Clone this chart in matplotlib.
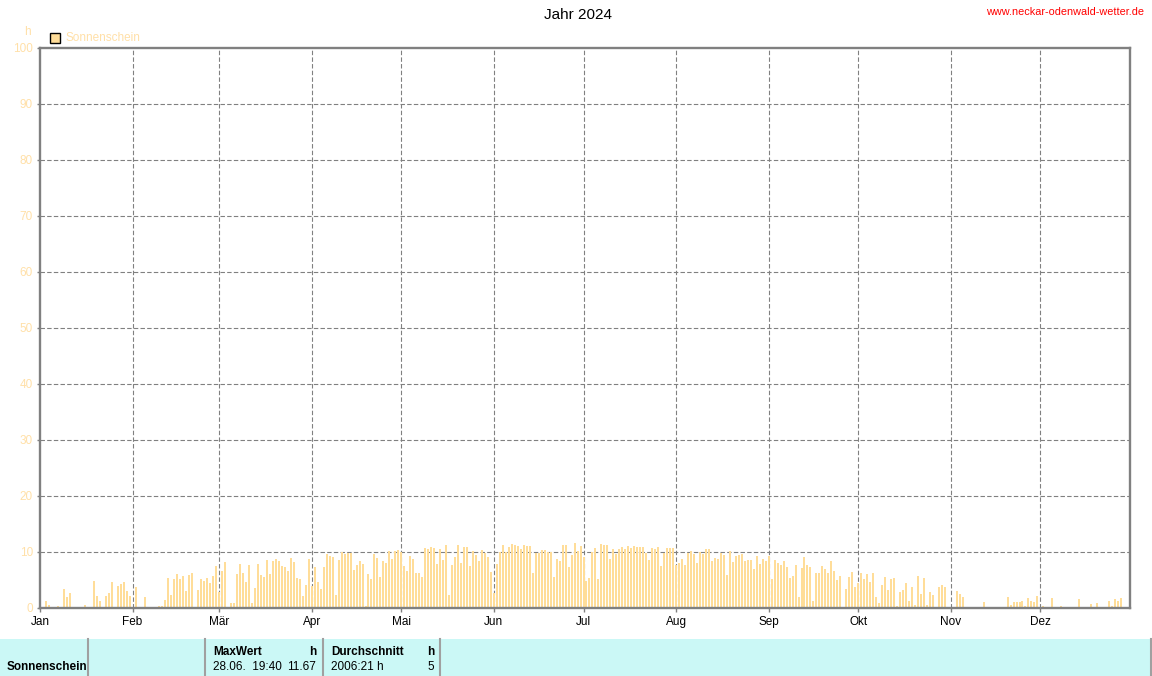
import matplotlib
matplotlib.use("Agg")
import matplotlib.pyplot as plt
from matplotlib.patches import Rectangle
from matplotlib.lines import Line2D
import numpy as np

# ---------------- data (daily sunshine hours, 2024) ----------------
jan = [2.1, 0, 1.2, 0.5, 0.2, 0, 0.4, 0, 3.4, 2.0, 2.7, 0, 0, 0, 0, 0.6, 0, 0, 4.8, 2.1,
       1.2, 0, 2.1, 2.7, 4.6, 0, 3.9, 4.3, 4.6, 3.0, 2.1]
feb = [0, 3.75, 0, 0, 2.0, 0, 0, 0, 0, 0.4, 0.4, 1.4, 5.4, 2.3, 5.2, 6.1, 5.2, 5.7, 3.0, 5.9,
       6.25, 0, 3.2, 5.2, 4.8, 5.4, 4.5, 5.7, 7.5]
mar = [2.9, 6.6, 8.2, 0, 0.9, 0.9, 6.1, 7.9, 6.25, 4.6, 7.7, 0.9, 3.6, 7.9, 5.9, 5.5, 8.6, 6.1,
       8.4, 8.75, 8.4, 7.5, 7.3, 6.6, 8.9, 8.2, 5.4, 5.2, 2.1, 4.1, 8.75]
apr = [3.9, 7.3, 4.6, 3.4, 7.3, 9.6, 9.3, 9.1, 2.3, 8.6, 10.0, 9.6, 9.8, 9.8, 6.8, 7.7, 8.4,
       7.9, 0.4, 6.1, 5.2, 9.6, 8.9, 5.5, 8.4, 8.0, 10.2, 8.75, 10.2, 10.4]
mai = [10.0, 7.5, 6.6, 9.3, 8.75, 6.25, 6.25, 5.5, 10.7, 10.5, 10.9, 10.7, 7.9, 10.5, 8.6,
       11.25, 2.3, 7.7, 9.1, 11.25, 8.0, 10.9, 10.9, 7.5, 10.2, 9.5, 8.4, 10.4, 9.8, 9.1, 6.4]
jun = [2.7, 7.9, 10.0, 11.25, 10.0, 10.9, 11.4, 11.25, 11.1, 10.5, 11.25, 11.1, 11.1, 6.25,
       9.8, 9.8, 10.4, 10.4, 10.0, 10.0, 5.5, 8.75, 8.4, 11.25, 11.25, 7.3, 9.5, 11.67, 10.2, 11.1]
jul = [9.1, 4.8, 5.4, 10.0, 10.7, 5.2, 11.4, 11.25, 11.25, 8.75, 10.5, 9.6, 10.5, 10.9, 10.5,
       11.1, 10.7, 11.1, 10.9, 10.9, 10.9, 9.8, 8.6, 10.7, 10.5, 10.9, 7.5, 9.8, 10.7, 10.7, 10.7]
aug = [7.7, 8.0, 8.75, 7.7, 9.8, 10.2, 9.6, 8.0, 10.0, 9.6, 10.5, 10.5, 8.4, 8.9, 8.75, 9.8,
       9.5, 5.9, 10.2, 8.2, 9.3, 9.5, 9.6, 8.4, 8.6, 8.6, 7.0, 9.3, 7.9, 8.75, 8.4]
sep = [9.3, 5.2, 8.6, 8.0, 7.7, 8.4, 7.3, 5.4, 5.7, 7.7, 2.0, 7.1, 9.1, 7.7, 7.3, 1.25, 6.25,
       6.25, 7.5, 7.0, 6.25, 8.4, 6.6, 5.0, 5.7, 0, 3.4, 5.5, 6.4, 3.75]
okt = [4.5, 6.25, 5.2, 6.1, 4.6, 6.25, 2.0, 0.9, 4.1, 5.5, 3.2, 5.2, 5.4, 0.4, 2.9, 3.2, 4.5,
       1.25, 3.75, 0.5, 5.7, 2.5, 5.4, 0.5, 2.9, 2.3, 0, 3.75, 4.1, 3.75, 0]
nov = [0, 0, 3.0, 2.5, 2.0, 0, 0, 0, 0, 0, 0, 1.1, 0, 0, 0, 0, 0, 0, 0, 2.0, 0.5, 1.1, 1.1,
       1.1, 1.25, 0.4, 1.8, 1.25, 1.1, 2.1]
dez = [0, 0.4, 0, 0, 1.8, 0, 0, 0.4, 0, 0.2, 0, 0, 0, 1.6, 0, 0, 0, 0.7, 0, 0.9, 0, 0, 0,
       1.25, 0.4, 1.6, 1.25, 1.8, 0, 0, 0]

month_labels = ["Jan", "Feb", "Mär", "Apr", "Mai", "Jun", "Jul", "Aug", "Sep", "Okt", "Nov", "Dez"]
y_ticks = [0, 10, 20, 30, 40, 50, 60, 70, 80, 90, 100]
series_name = "Sonnenschein"
title = "Jahr 2024"
site = "www.neckar-odenwald-wetter.de"
table_header = ["MaxWert", "h", "Durchschnitt", "h"]
table_values = ["28.06.  19:40", "11.67", "2006:21 h", "5"]

# ---------------- figure ----------------
W, H = 1152, 676
plt.rcParams['font.family'] = ['Liberation Sans', 'DejaVu Sans']
fig = plt.figure(figsize=(W / 100, H / 100), dpi=100)
fig.patch.set_facecolor('white')

def fx(x):
    return x / W

def fy(y):
    return 1 - y / H

ax = fig.add_axes([fx(40), fy(608), (1130 - 40) / W, (608 - 48) / H])

months = [jan, feb, mar, apr, mai, jun, jul, aug, sep, okt, nov, dez]
values = np.concatenate([np.array(m, dtype=float) for m in months])
days = np.arange(len(values))
month_starts = np.cumsum([0] + [len(m) for m in months[:-1]])

bar_color = '#ffdd99'
label_color = '#ffe0a8'
grid_color = '#808080'

ax.bar(days, values, width=0.67, color=bar_color, linewidth=0, zorder=2)

ax.set_xlim(0, 365)
ax.set_ylim(0, 100)
ax.set_xticks(month_starts)
ax.set_xticklabels(month_labels)
ax.set_yticks(y_ticks)
ax.set_yticklabels([str(v) for v in y_ticks])

for s in ax.spines.values():
    s.set_color(grid_color)
    s.set_linewidth(1.7)

ax.tick_params(axis='x', length=3, width=1, color=grid_color, pad=3,
               labelsize=8.5, labelcolor='black')
ax.tick_params(axis='y', length=2, width=1, color=grid_color, pad=3,
               labelsize=8.5, labelcolor=label_color)

for y in y_ticks[1:-1]:
    ax.axhline(y, color=grid_color, lw=0.8, ls=(0, (4, 2)), zorder=1)
for x in month_starts[1:]:
    ax.axvline(x, color=grid_color, lw=0.8, ls=(0, (4, 2)), zorder=1)

# unit label and legend
fig.text(fx(27), fy(32), "h", color=label_color, fontsize=8.5, ha='center', va='center')
fig.patches.append(Rectangle((fx(50), fy(43)), 10 / W, 10 / H, transform=fig.transFigure,
                             facecolor=bar_color, edgecolor='black', linewidth=1))
fig.text(fx(65), fy(38), series_name, color=label_color, fontsize=8.5, ha='left', va='center')

# title and site
fig.text(fx(578), fy(15), title, color='black', fontsize=11, ha='center', va='center')
fig.text(fx(1144), fy(12), site, color='red', fontsize=7.8, ha='right', va='center')

# ---------------- summary table ----------------
fig.patches.append(Rectangle((0, 0), 1, (H - 639) / H, transform=fig.transFigure,
                             facecolor='#cbf8f6', edgecolor='none'))
for xs in [88, 205, 323, 440, 1151]:
    fig.lines.append(Line2D([fx(xs), fx(xs)], [0, fy(639)], transform=fig.transFigure,
                            color='#a0a0a0', lw=1.5))

fig.text(fx(7), fy(667), series_name, fontsize=8.5, fontweight='bold', ha='left', va='center')
fig.text(fx(213), fy(652), table_header[0], fontsize=8.5, fontweight='bold', ha='left', va='center')
fig.text(fx(316), fy(652), table_header[1], fontsize=8.5, fontweight='bold', ha='right', va='center')
fig.text(fx(331), fy(652), table_header[2], fontsize=8.5, fontweight='bold', ha='left', va='center')
fig.text(fx(434), fy(652), table_header[3], fontsize=8.5, fontweight='bold', ha='right', va='center')
fig.text(fx(213), fy(667), table_values[0], fontsize=8.5, ha='left', va='center')
fig.text(fx(316), fy(667), table_values[1], fontsize=8.5, ha='right', va='center')
fig.text(fx(331), fy(667), table_values[2], fontsize=8.5, ha='left', va='center')
fig.text(fx(434), fy(667), table_values[3], fontsize=8.5, ha='right', va='center')

fig.savefig("out.png", dpi=100)
